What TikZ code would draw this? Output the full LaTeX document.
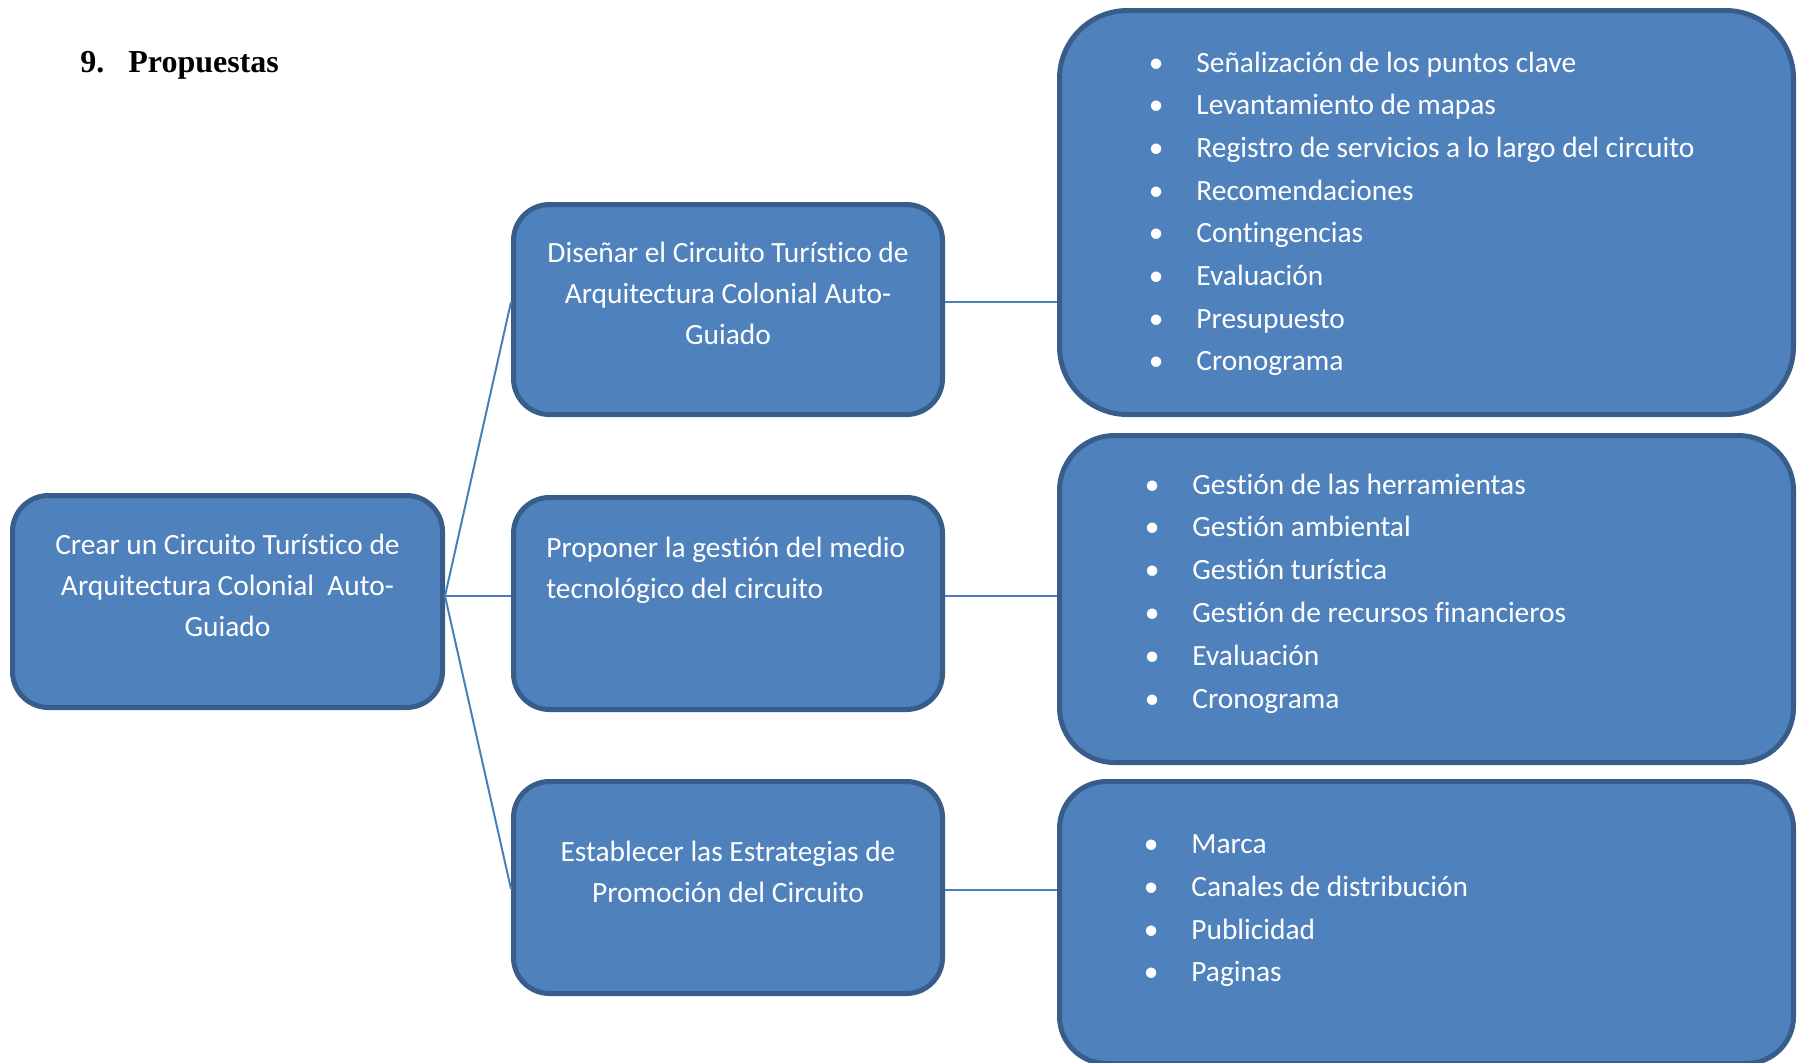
\documentclass[tikz,border=0pt]{standalone}
\usepackage{fontspec}
\setmainfont{Carlito}[Ligatures=CommonOff]
\newfontfamily\headfont{Liberation Serif}
\usetikzlibrary{positioning,calc}
\definecolor{boxfill}{HTML}{4F81BD}
\definecolor{boxline}{HTML}{385D8A}
\definecolor{linkcol}{HTML}{4A7EBB}

\begin{document}
\begin{tikzpicture}[x=0.5pt,y=-0.5pt]
  \tikzstyle{box} = [rectangle, draw=boxline, fill=boxfill, line width=2.5pt, inner sep=0pt, rounded corners=18pt, minimum width=214.5pt, minimum height=106pt]
  \tikzstyle{bigbox} = [box, minimum width=367pt]
  \tikzstyle{txt} = [text=white, inner sep=0pt, font=\fontsize{14.7}{20.6}\selectfont]
  \tikzstyle{item} = [txt, anchor=base west]
  \tikzstyle{link} = [draw=linkcol, line width=1pt]
  \useasboundingbox (0,0) rectangle (1797,1062);
  % heading
  \node (title) [anchor=base west, inner sep=0pt, font=\headfont\bfseries\fontsize{16}{19}\selectfont] at (80,72) {\makebox[24pt][l]{9.}Propuestas};
  % boxes
  \node (root) [box, minimum width=215pt] at (227.5,601.5) {};
  \node (mid1) [box, minimum height=105pt] at (728,309.5) {};
  \node (mid2) [box] at (728,603.5) {};
  \node (mid3) [box] at (728,887.5) {};
  \node (right1) [bigbox, minimum height=202pt, rounded corners=34pt] at (1426.5,212.5) {};
  \node (right2) [bigbox, minimum height=163.5pt, rounded corners=27.5pt] at (1426.5,599) {};
  \node (right3) [bigbox, minimum height=141pt, rounded corners=23.5pt] at (1426.5,922.5) {};
  % box texts
  \node (roottxt) [txt, align=center, anchor=north] at (227.5,525.2) {\strut Crear un Circuito Turístico de\\Arquitectura Colonial~ Auto-\\Guiado};
  \node (mid1txt) [txt, align=center, anchor=north] at (728,233.2) {\strut Diseñar el Circuito Turístico de\\Arquitectura Colonial Auto-\\Guiado};
  \node (mid2txt) [txt, align=left, anchor=north west] at (546,528.2) {\strut Proponer la gestión del medio\\tecnológico del circuito};
  \node (mid3txt) [txt, align=center, anchor=north] at (728,832.2) {\strut Establecer las Estrategias de\\Promoción del Circuito};
  % lists
  \foreach \t [count=\i] in {Señalización de los puntos clave, Levantamiento de mapas, Registro de servicios a lo largo del circuito, Recomendaciones, Contingencias, Evaluación, Presupuesto, Cronograma}
    \node (a\i) [item] at (1196,{72+42.7*(\i-1)}) {\llap{\textbullet\hspace{16.5pt}}\t};
  \foreach \t [count=\i] in {Gestión de las herramientas, Gestión ambiental, Gestión turística, Gestión de recursos financieros, Evaluación, Cronograma}
    \node (b\i) [item] at (1192,{494+42.8*(\i-1)}) {\llap{\textbullet\hspace{16.5pt}}\t};
  \foreach \t [count=\i] in {Marca, Canales de distribución, Publicidad, Paginas}
    \node (c\i) [item] at (1191,{853.5+42.8*(\i-1)}) {\llap{\textbullet\hspace{16.5pt}}\t};
  % connectors
  \coordinate (hub) at ([yshift=2.75pt]root.east);
  \coordinate (m1) at ([yshift=3.75pt]mid1.east);
  \coordinate (m2) at ([yshift=3.75pt]mid2.east);
  \coordinate (m3) at ([yshift=-1.25pt]mid3.east);
  \draw [link] (hub) -- ([yshift=3.75pt]mid1.west);
  \draw [link] (hub) -- ([yshift=3.75pt]mid2.west);
  \draw [link] (hub) -- ([yshift=-0.75pt]mid3.west);
  \draw [link] (m1) -- (m1 -| right1.west);
  \draw [link] (m2) -- (m2 -| right2.west);
  \draw [link] (m3) -- (m3 -| right3.west);
\end{tikzpicture}
\end{document}
